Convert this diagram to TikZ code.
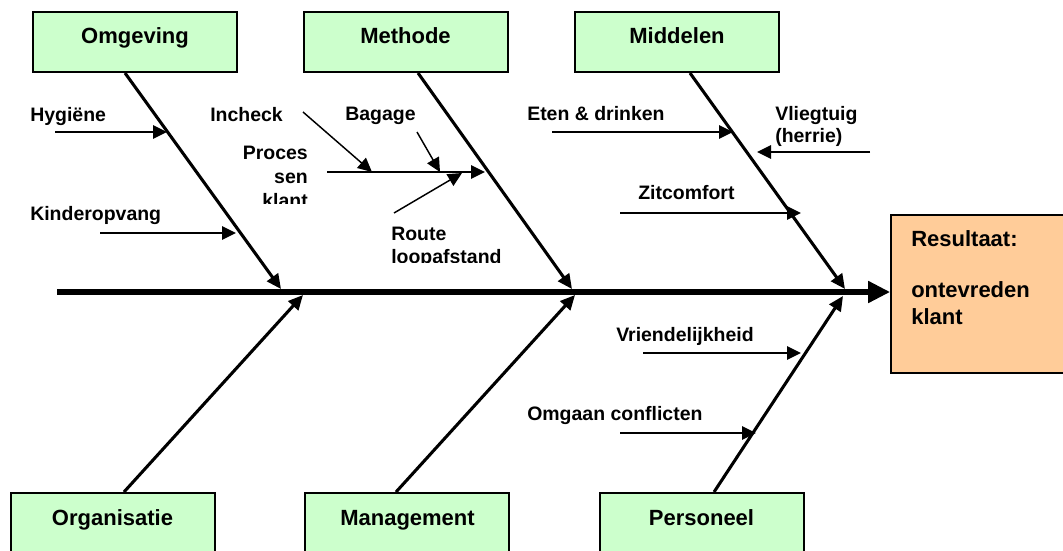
\documentclass[tikz,border=0pt]{standalone}
\usepackage{fontspec}
\setmainfont{Liberation Sans}
\usetikzlibrary{arrows.meta}
\definecolor{boxgreen}{HTML}{CCFFCC}
\definecolor{boxpeach}{HTML}{FFCC99}
\begin{document}
\begin{tikzpicture}[x=0.75pt,y=-0.75pt,
  catbox/.style={draw=black, line width=1.5pt, fill=boxgreen, minimum width=153pt, minimum height=45pt, inner sep=0pt},
  cattxt/.style={font=\fontsize{16.5}{19}\selectfont\bfseries, inner sep=0pt, anchor=base},
  lbl/.style={font=\fontsize{14.6}{17}\selectfont\bfseries, inner sep=0pt, anchor=base west},
  lblr/.style={lbl, anchor=base east},
  bone/.style={line width=2.3pt, -{Triangle[length=11pt,width=10pt]}},
  subarrow/.style={line width=1.4pt, -{Triangle[length=10.5pt,width=10pt]}},
]
\clip (0,0) rectangle (1063,550);
\fill[white] (0,0) rectangle (1063,550);

% category boxes
\node[catbox] (omg) at (135,42) {};
\node[catbox] (met) at (405.5,42) {};
\node[catbox] (mid) at (677,42) {};
\node[catbox] (org) at (112.5,523) {};
\node[catbox] (man) at (407,523) {};
\node[catbox] (per) at (701.5,523) {};
\node[cattxt] (tomg) at (135,43) {Omgeving};
\node[cattxt] (tmet) at (405.5,43) {Methode};
\node[cattxt] (tmid) at (677,43) {Middelen};
\node[cattxt] (torg) at (112.5,525) {Organisatie};
\node[cattxt] (tman) at (407.5,525) {Management};
\node[cattxt] (tper) at (701.5,525) {Personeel};

% result box
\node[draw=black, line width=1.2pt, fill=boxpeach, minimum width=138pt, minimum height=118.5pt, inner sep=0pt] (res) at (983,294) {};
\node[cattxt, anchor=base west] (r1) at (911,246) {Resultaat:};
\node[cattxt, anchor=base west] (r2) at (911,297) {ontevreden};
\node[cattxt, anchor=base west] (r3) at (911,324) {klant};

% spine
\coordinate (sp0) at (57,292);
\draw[line width=5.2pt, -{Triangle[length=16.5pt,width=15.5pt]}] (sp0) -- (sp0 -| res.west);

% bones
\coordinate (aomg) at ([xshift=-7.5pt]omg.south);
\coordinate (amet) at ([xshift=9.4pt]met.south);
\coordinate (amid) at ([xshift=9.75pt]mid.south);
\coordinate (aorg) at ([xshift=8.6pt]org.north);
\coordinate (aman) at ([xshift=-8.25pt]man.north);
\coordinate (aper) at ([xshift=9.4pt]per.north);
\coordinate (homg) at (281,289);
\coordinate (hmet) at (572,289);
\coordinate (hmid) at (845,289);
\coordinate (horg) at (303,295);
\coordinate (hman) at (575,295);
\coordinate (hper) at (843,296);
\draw[bone] (aomg) -- (homg);
\draw[bone] (amet) -- (hmet);
\draw[bone] (amid) -- (hmid);
\draw[bone] (aorg) -- (horg);
\draw[bone] (aman) -- (hman);
\draw[bone] (aper) -- (hper);

% Omgeving causes
\node[lbl] (hyg) at (30,121) {Hygiëne};
\coordinate (hyg0) at (55,132); \coordinate (hyg1) at (167,132);
\draw[subarrow] (hyg0) -- (hyg1);
\node[lbl] (kin) at (30,220) {Kinderopvang};
\coordinate (kin0) at (100,233); \coordinate (kin1) at (236,233);
\draw[subarrow] (kin0) -- (kin1);

% Methode causes
\node[lbl] (inc) at (210,121) {Incheck};
\node[lbl] (bag) at (345,120) {Bagage};
\node[lblr] (pr1) at (308,159) {Proces};
\node[lblr] (pr2) at (308,183) {sen};
\begin{scope}
  \clip (240,185) rectangle (320,203);
  \node[lblr] (pr3) at (308,207) {klant};
\end{scope}
\node[lbl] (rou1) at (391,240) {Route};
\begin{scope}
  \clip (380,244) rectangle (520,262);
  \node[lbl] (rou2) at (391,263) {loopafstand};
\end{scope}
\coordinate (pro0) at (327,172); \coordinate (pro1) at (485,172);
\coordinate (inc0) at (303,112); \coordinate (inc1) at (372,172);
\coordinate (bag0) at (417,132); \coordinate (bag1) at (440,172);
\coordinate (rou0) at (394,213); \coordinate (rou9) at (462,173);
\draw[subarrow] (pro0) -- (pro1);
\draw[subarrow, line width=1.1pt] (inc0) -- (inc1);
\draw[subarrow, line width=1.1pt] (bag0) -- (bag1);
\draw[subarrow, line width=1.1pt] (rou0) -- (rou9);

% Middelen causes
\node[lbl] (ete) at (527,120) {Eten \& drinken};
\coordinate (ete0) at (552,132); \coordinate (ete1) at (733,132);
\draw[subarrow] (ete0) -- (ete1);
\node[lbl] (vl1) at (775,120) {Vliegtuig};
\node[lbl] (vl2) at (775,142) {(herrie)};
\coordinate (vl0) at (870,152); \coordinate (vl9) at (757,152);
\draw[subarrow] (vl0) -- (vl9);
\node[lbl] (zit) at (638,199) {Zitcomfort};
\coordinate (zit0) at (620,213); \coordinate (zit1) at (801,213);
\draw[subarrow] (zit0) -- (zit1);

% Personeel causes
\node[lbl] (vri) at (616,341) {Vriendelijkheid};
\coordinate (vri0) at (643,353); \coordinate (vri1) at (801,353);
\draw[subarrow] (vri0) -- (vri1);
\node[lbl] (omc) at (527,420) {Omgaan conflicten};
\coordinate (omc0) at (620,433); \coordinate (omc1) at (756,433);
\draw[subarrow] (omc0) -- (omc1);
\end{tikzpicture}
\end{document}
